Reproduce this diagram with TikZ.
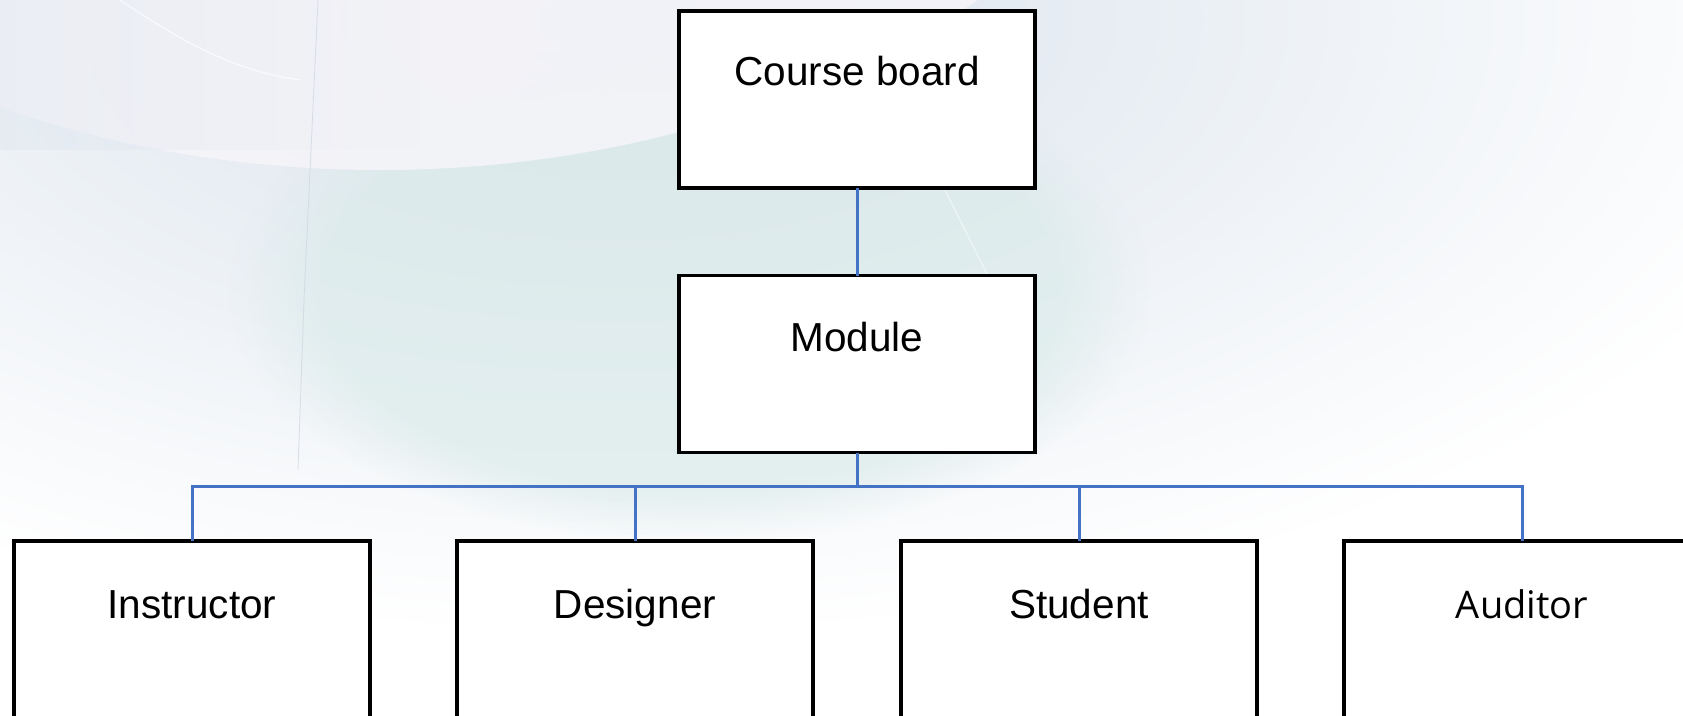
\documentclass[tikz,border=0pt]{standalone}
\usepackage{fontspec}
\setmainfont{Liberation Sans}
\newfontfamily\segoe{Open Sans}
\usetikzlibrary{fadings}
\definecolor{bgA}{HTML}{D9E2EC}
\definecolor{lav}{HTML}{F6F5F9}
\definecolor{tealbg}{HTML}{D8EAE8}
\definecolor{linkblue}{HTML}{4472C4}
\definecolor{faint}{HTML}{CBD4DE}
\tikzset{
  x=1pt, y=-1pt,
  box/.style={draw=black, line width=3.5pt, fill=white, minimum width=356pt, inner sep=0pt, outer sep=0pt},
  topbox/.style={box, minimum height=177pt},
  lowbox/.style={box, minimum height=219pt},
  lbl/.style={anchor=base, font=\fontsize{40.5}{48}\selectfont, inner sep=0pt},
  lnk/.style={draw=linkblue, line width=3pt}
}
\begin{document}
\begin{tikzpicture}
\useasboundingbox (0,0) rectangle (1683,715);
% background
\begin{scope}
\clip (0,0) rectangle (1683,715);
\fill[white] (0,0) rectangle (1683,715);
\shade[inner color=bgA, outer color=white] (620,20) ellipse [x radius=1250, y radius=620];
\fill[tealbg, opacity=0.6, path fading=circle with fuzzy edge 20 percent] (230,40) rectangle (1150,540);
\fill[lav, opacity=0.85] (380,-503) ellipse [x radius=900, y radius=673];
\fill[bgA, opacity=0.35, path fading=east] (0,0) rectangle (420,150);
\draw[faint, line width=0.8pt, opacity=0.7] (318,0) -- (304,300) -- (298,470);
\draw[white, line width=1.2pt, opacity=0.7] (120,0) .. controls (180,40) and (230,70) .. (300,80);
\draw[white, line width=1.5pt, opacity=0.45] (930,160) -- (1010,320);
\end{scope}
% boxes
\node[topbox] (cb) at (857,99.5) {};
\node[topbox] (mod) at (857,364) {};
\node[lowbox] (ins) at (192,650.5) {};
\node[lowbox] (des) at (635,650.5) {};
\node[lowbox] (stu) at (1079,650.5) {};
\node[lowbox] (aud) at (1522,650.5) {};
% labels
\node[lbl] (cbt) at ([yshift=-74pt]cb.north) {Course board};
\node[lbl] (modt) at ([yshift=-76pt]mod.north) {Module};
\node[lbl] (inst) at ([yshift=-77pt]ins.north) {Instructor};
\node[lbl] (dest) at ([yshift=-77pt]des.north) {Designer};
\node[lbl] (stut) at ([yshift=-77pt]stu.north) {Student};
\node[lbl, font=\segoe\fontsize{38}{46}\selectfont] (audt) at ([yshift=-77pt]aud.north) {Auditor};
% connectors
\coordinate (bar) at (857,486);
\draw[lnk] (cb.south) -- (mod.north);
\draw[lnk] (mod.south) -- (bar);
\draw[lnk] (bar) -| (ins.north);
\draw[lnk] (bar) -| (des.north);
\draw[lnk] (bar) -| (stu.north);
\draw[lnk] (bar) -| (aud.north);
\end{tikzpicture}
\end{document}
